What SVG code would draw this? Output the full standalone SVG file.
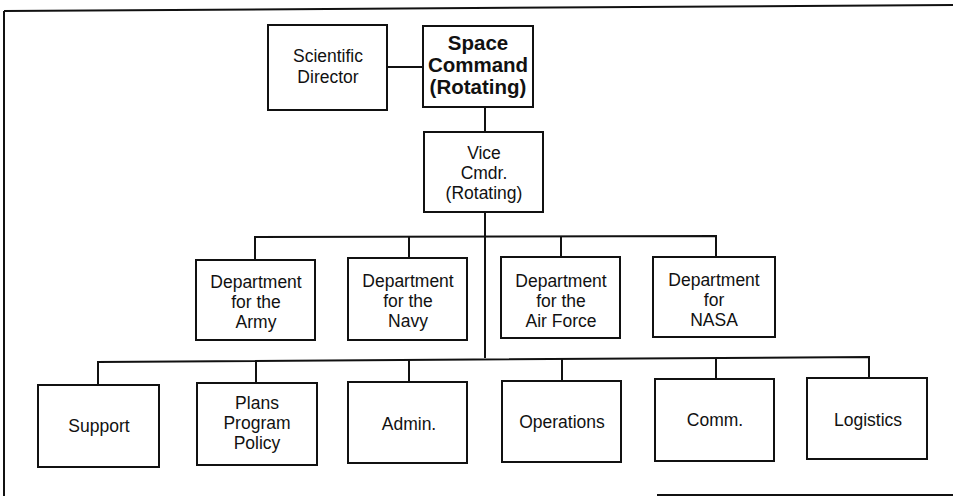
<svg xmlns="http://www.w3.org/2000/svg" width="953" height="496" viewBox="0 0 953 496">
<style>
.box{fill:#fff;stroke:#111;stroke-width:2}
.ln{fill:none;stroke:#111;stroke-width:2}
.t{font-family:"Liberation Sans",Arial,sans-serif;font-size:17.5px;fill:#111;text-anchor:middle}
.b{font-family:"Liberation Sans",Arial,sans-serif;font-size:20.5px;font-weight:bold;fill:#111;text-anchor:middle}
</style>
<rect width="953" height="496" fill="#fff"/>
<g id="frame" class="ln">
<line x1="4" y1="11" x2="953" y2="5"/>
<line x1="4" y1="11" x2="4" y2="496"/>
<line x1="657" y1="495" x2="953" y2="495"/>
</g>
<g id="connectors" class="ln">
<line x1="387" y1="67" x2="423" y2="67"/>
<line x1="485" y1="107" x2="485" y2="132"/>
<line x1="485" y1="212" x2="485" y2="358"/>
<polyline points="255,260 255,237 716,236 716,257"/>
<line x1="409" y1="237" x2="409" y2="258"/>
<line x1="561" y1="237" x2="561" y2="257"/>
<polyline points="98,385 98,362 869,357 869,378"/>
<line x1="256" y1="361" x2="256" y2="383"/>
<line x1="409" y1="360" x2="409" y2="382"/>
<line x1="562" y1="359" x2="562" y2="381"/>
<line x1="716" y1="358" x2="716" y2="379"/>
</g>
<g id="scientific-director">
<rect class="box" x="268" y="25" width="119" height="85"/>
<text class="t" x="328" y="62">Scientific</text>
<text class="t" x="328" y="83">Director</text>
</g>
<g id="space-command">
<rect class="box" x="423" y="26" width="110" height="81"/>
<text class="b" x="478" y="50">Space</text>
<text class="b" x="478" y="72">Command</text>
<text class="b" x="478" y="94">(Rotating)</text>
</g>
<g id="vice-cmdr">
<rect class="box" x="424" y="132" width="119" height="80"/>
<text class="t" x="484" y="159">Vice</text>
<text class="t" x="484" y="179">Cmdr.</text>
<text class="t" x="484" y="199">(Rotating)</text>
</g>
<g id="dept-army">
<rect class="box" x="196" y="260" width="119" height="80"/>
<text class="t" x="256" y="288">Department</text>
<text class="t" x="256" y="308">for the</text>
<text class="t" x="256" y="328">Army</text>
</g>
<g id="dept-navy">
<rect class="box" x="348" y="258" width="119" height="82"/>
<text class="t" x="408" y="287">Department</text>
<text class="t" x="408" y="307">for the</text>
<text class="t" x="408" y="327">Navy</text>
</g>
<g id="dept-airforce">
<rect class="box" x="501" y="257" width="119" height="81"/>
<text class="t" x="561" y="287">Department</text>
<text class="t" x="561" y="307">for the</text>
<text class="t" x="561" y="327">Air Force</text>
</g>
<g id="dept-nasa">
<rect class="box" x="653" y="257" width="122" height="80"/>
<text class="t" x="714" y="286">Department</text>
<text class="t" x="714" y="306">for</text>
<text class="t" x="714" y="326">NASA</text>
</g>
<g id="support">
<rect class="box" x="38" y="385" width="121" height="82"/>
<text class="t" x="99" y="432">Support</text>
</g>
<g id="plans">
<rect class="box" x="197" y="383" width="120" height="82"/>
<text class="t" x="257" y="409">Plans</text>
<text class="t" x="257" y="429">Program</text>
<text class="t" x="257" y="449">Policy</text>
</g>
<g id="admin">
<rect class="box" x="348" y="382" width="119" height="81"/>
<text class="t" x="409" y="430">Admin.</text>
</g>
<g id="operations">
<rect class="box" x="502" y="381" width="119" height="81"/>
<text class="t" x="562" y="428">Operations</text>
</g>
<g id="comm">
<rect class="box" x="655" y="379" width="119" height="82"/>
<text class="t" x="715" y="426">Comm.</text>
</g>
<g id="logistics">
<rect class="box" x="807" y="378" width="120" height="81"/>
<text class="t" x="868" y="426">Logistics</text>
</g>
</svg>
